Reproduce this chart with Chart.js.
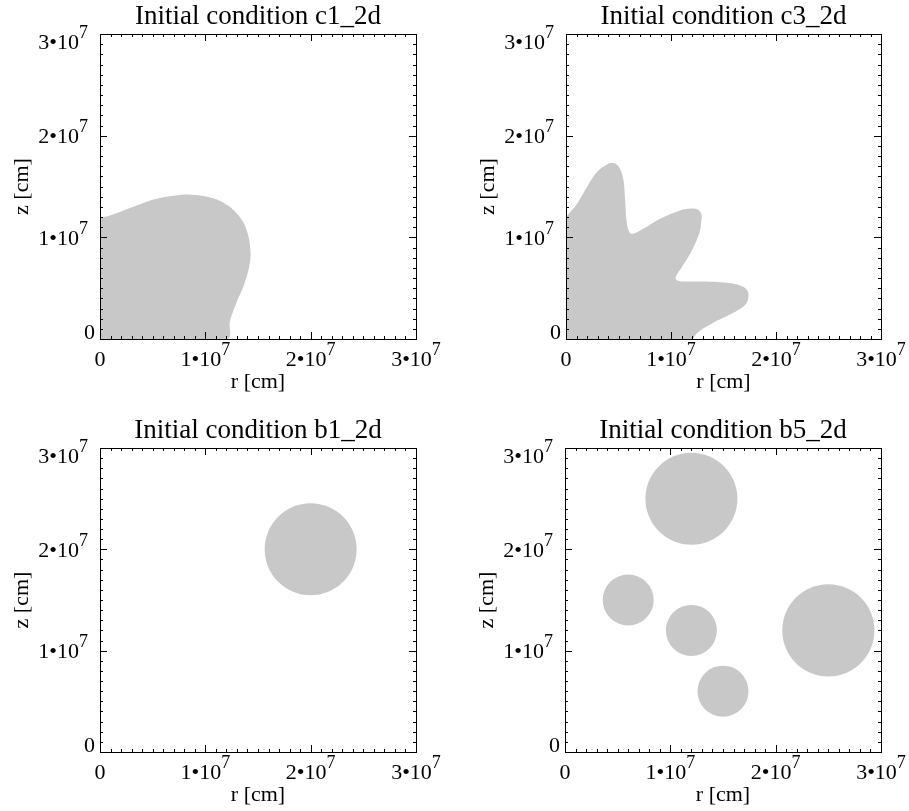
<!DOCTYPE html>
<html>
<head>
<meta charset="utf-8">
<title>Initial conditions</title>
<script src="https://cdn.jsdelivr.net/npm/chart.js@4.4.1/dist/chart.umd.min.js"></script>
<style>
  body { margin: 0; background: #fff; }
  #page { position: relative; width: 909px; height: 811px; overflow: hidden; }
  canvas { position: absolute; }
</style>
</head>
<body>
<div id="page">
  <canvas id="panel-c1" width="455" height="405" style="left:0;top:0"></canvas>
  <canvas id="panel-c3" width="454" height="405" style="left:455px;top:0"></canvas>
  <canvas id="panel-b1" width="455" height="406" style="left:0;top:405px"></canvas>
  <canvas id="panel-b5" width="454" height="406" style="left:455px;top:405px"></canvas>
</div>
<script>
// axis ticks, same for every panel (r and z in cm)
const tickValues = [0, 1e7, 2e7, 3e7];
const tickMantissa = ['0', '1•10', '2•10', '3•10'];
const tickExponent = ['', '7', '7', '7'];

// c1_2d outline: from the z axis over the top, down to the r axis, back to the origin
const c1R = [0, 0.095e7, 0.20e7, 0.317e7, 0.43e7, 0.538e7, 0.70e7, 0.86e7, 1.03e7, 1.187e7,
             1.314e7, 1.393e7, 1.428e7, 1.415e7, 1.371e7, 1.298e7, 1.235e7, 1.203e7, 0];
const c1Z = [1.19e7, 1.215e7, 1.255e7, 1.30e7, 1.345e7, 1.38e7, 1.41e7, 1.42e7, 1.396e7, 1.331e7,
             1.216e7, 1.068e7, 0.871e7, 0.707e7, 0.543e7, 0.362e7, 0.182e7, 0, 0];

// c3_2d outline, three lobes
const c3R = [0, 0.105e7, 0.20e7, 0.295e7, 0.39e7, 0.445e7, 0.49e7, 0.525e7, 0.548e7, 0.558e7,
             0.566e7, 0.576e7, 0.595e7, 0.625e7, 0.707e7, 0.897e7, 1.087e7, 1.17e7, 1.23e7, 1.27e7,
             1.291e7, 1.288e7, 1.272e7, 1.199e7, 1.104e7, 1.045e7, 1.06e7, 1.12e7, 1.309e7, 1.532e7,
             1.675e7, 1.725e7, 1.738e7, 1.71e7, 1.56e7, 1.385e7, 1.25e7, 1.19e7, 0];
const c3Z = [1.199e7, 1.33e7, 1.494e7, 1.642e7, 1.717e7, 1.73e7, 1.71e7, 1.65e7, 1.56e7, 1.45e7,
             1.30e7, 1.166e7, 1.07e7, 1.035e7, 1.068e7, 1.183e7, 1.265e7, 1.28e7, 1.281e7, 1.262e7,
             1.216e7, 1.15e7, 1.05e7, 0.871e7, 0.707e7, 0.61e7, 0.575e7, 0.566e7, 0.566e7, 0.553e7,
             0.52e7, 0.48e7, 0.428e7, 0.34e7, 0.24e7, 0.15e7, 0.06e7, 0, 0];

// b1_2d: one bubble (centre r, centre z, radius)
const b1R = [2.0e7];
const b1Z = [2.0e7];
const b1Radius = [0.445e7];

// b5_2d: five bubbles
const b5R = [1.2e7, 0.6e7, 1.2e7, 1.5e7, 2.5e7];
const b5Z = [2.5e7, 1.5e7, 1.2e7, 0.6e7, 1.2e7];
const b5Radius = [0.445e7, 0.247e7, 0.247e7, 0.247e7, 0.446e7];

const GRAY = '#c8c8c8';
const SERIF = '"Liberation Serif", "Times New Roman", serif';

// radius given in cm -> pixels, using both scales (they differ by a hair)
function radiusPx(chart, rad) {
    const x = chart.scales.x, y = chart.scales.y;
    const rx = Math.abs(x.getPixelForValue(rad) - x.getPixelForValue(0));
    const ry = Math.abs(y.getPixelForValue(0) - y.getPixelForValue(rad));
    return (rx + ry) / 2;
}

function shapeDataset(rs, zs) {
    return {
        data: rs.map((r, i) => ({ x: r, y: zs[i] })),
        showLine: true,
        fill: 'shape',
        backgroundColor: GRAY,
        borderColor: 'rgba(0,0,0,0)',
        borderWidth: 0,
        pointRadius: 0,
        tension: 0.4
    };
}

function bubbleDataset(rs, zs, radii) {
    const rad = ctx => ctx.dataIndex === undefined ? 0 : radiusPx(ctx.chart, radii[ctx.dataIndex]);
    return {
        data: rs.map((r, i) => ({ x: r, y: zs[i] })),
        showLine: false,
        pointRadius: rad,
        pointHoverRadius: rad,
        pointBackgroundColor: GRAY,
        pointBorderColor: 'rgba(0,0,0,0)',
        pointBorderWidth: 0
    };
}

// IDL-style box: inward ticks on all four sides, labels with superscript exponent
const framePlugin = {
    id: 'frame',
    afterDraw(chart, args, opts) {
        const { ctx, chartArea: a } = chart;
        const xs = chart.scales.x, ys = chart.scales.y;
        ctx.save();
        ctx.strokeStyle = '#000';
        ctx.fillStyle = '#000';
        ctx.lineWidth = 1;
        ctx.strokeRect(a.left + 0.5, a.top + 0.5, a.right - a.left, a.bottom - a.top);

        ctx.beginPath();
        for (let i = 0; i <= 30; i++) {
            const v = i * 1e6;
            const len = i % 10 === 0 ? 7 : 3;
            const px = Math.round(xs.getPixelForValue(v)) + 0.5;
            const py = Math.round(ys.getPixelForValue(v)) + 0.5;
            ctx.moveTo(px, a.bottom); ctx.lineTo(px, a.bottom - len);
            ctx.moveTo(px, a.top); ctx.lineTo(px, a.top + len);
            ctx.moveTo(a.left, py); ctx.lineTo(a.left + len, py);
            ctx.moveTo(a.right, py); ctx.lineTo(a.right - len, py);
        }
        ctx.stroke();

        const mainFont = '22px ' + SERIF;
        const supFont = '18px ' + SERIF;
        ctx.textAlign = 'left';
        ctx.textBaseline = 'alphabetic';
        tickValues.forEach((v, i) => {
            const main = tickMantissa[i], sup = tickExponent[i];
            ctx.font = mainFont;
            const w1 = ctx.measureText(main).width;
            ctx.font = supFont;
            const w2 = sup ? ctx.measureText(sup).width : 0;

            // r axis
            let x0 = xs.getPixelForValue(v) - (w1 + w2) / 2;
            let base = a.bottom + 27;
            ctx.font = mainFont; ctx.fillText(main, x0, base);
            if (sup) { ctx.font = supFont; ctx.fillText(sup, x0 + w1, base - 11); }

            // z axis, end labels kept inside the axis range
            const half = 7.5;
            const cy = Math.min(Math.max(ys.getPixelForValue(v), a.top + half), a.bottom - half);
            x0 = a.left - (sup ? 12 : 5) - (w1 + w2);
            base = cy + half;
            ctx.font = mainFont; ctx.fillText(main, x0, base);
            if (sup) { ctx.font = supFont; ctx.fillText(sup, x0 + w1, base - 11); }
        });

        const midX = (a.left + a.right) / 2, midY = (a.top + a.bottom) / 2;
        ctx.textAlign = 'center';
        ctx.font = '22px ' + SERIF;
        ctx.fillText('r [cm]', midX, a.bottom + 49);
        ctx.save();
        ctx.translate(a.left - 78, midY);
        ctx.rotate(-Math.PI / 2);
        ctx.textBaseline = 'middle';
        ctx.fillText('z [cm]', 0, 0);
        ctx.restore();

        ctx.font = '27px ' + SERIF;
        ctx.fillText(opts.title, midX, a.top - 10.5);
        ctx.restore();
    }
};

function createPanel(canvasId, title, datasets, padding) {
    return new Chart(document.getElementById(canvasId), {
        type: 'scatter',
        data: { datasets: datasets },
        options: {
            responsive: false,
            animation: false,
            events: [],
            layout: { padding: padding },
            scales: {
                x: { type: 'linear', min: 0, max: 3e7, display: false },
                y: { type: 'linear', min: 0, max: 3e7, display: false }
            },
            plugins: {
                legend: { display: false },
                tooltip: { enabled: false },
                frame: { title: title }
            }
        },
        plugins: [framePlugin]
    });
}

createPanel('panel-c1', 'Initial condition c1_2d', [shapeDataset(c1R, c1Z)],
    { left: 100, top: 34, right: 39, bottom: 66 });
createPanel('panel-c3', 'Initial condition c3_2d', [shapeDataset(c3R, c3Z)],
    { left: 111, top: 34, right: 28, bottom: 66 });
createPanel('panel-b1', 'Initial condition b1_2d', [bubbleDataset(b1R, b1Z, b1Radius)],
    { left: 100, top: 43, right: 39, bottom: 59 });
createPanel('panel-b5', 'Initial condition b5_2d', [bubbleDataset(b5R, b5Z, b5Radius)],
    { left: 110, top: 43, right: 28, bottom: 59 });
</script>
</body>
</html>
